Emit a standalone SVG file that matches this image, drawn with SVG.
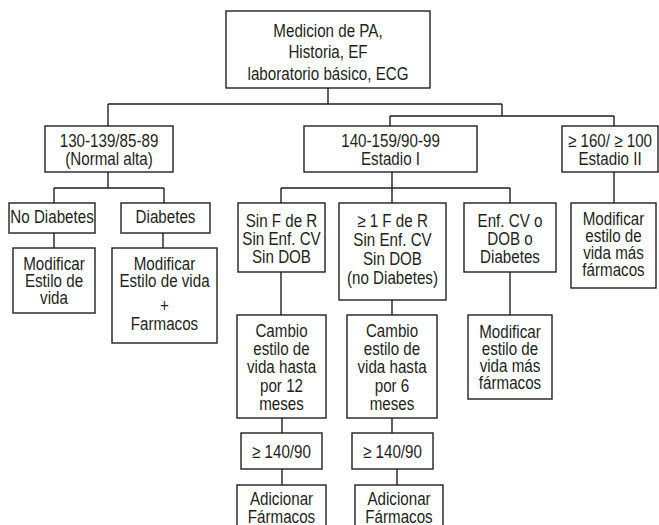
<svg xmlns="http://www.w3.org/2000/svg" width="659" height="525" viewBox="0 0 659 525">
  <style>
    .box { fill: #ffffff; stroke: #231f20; stroke-width: 1.4; }
    .wire { fill: none; stroke: #231f20; stroke-width: 1.4; }
    text { font-family: "Liberation Sans", Arial, sans-serif; font-size: 18.5px; text-anchor: middle; fill: #231f20; }
  </style>
  <rect width="659" height="525" fill="#ffffff"/>

  <!-- connectors -->
  <g id="connectors">
    <path class="wire" d="M328,88 V104 M108,104 H502 M108,104 V126 M502,104 V116 M390,116 H614 M390,116 V126 M614,116 V126"/>
    <path class="wire" d="M108,172 V188 M54,188 H164 M54,188 V203 M164,188 V203"/>
    <path class="wire" d="M392,172 V188 M281,188 H510 M281,188 V203 M392,188 V203 M510,188 V203"/>
    <path class="wire" d="M614,172 V203"/>
    <path class="wire" d="M54,233 V248 M163,233 V248"/>
    <path class="wire" d="M281,272 V315 M282,418 V433 M282,469 V485"/>
    <path class="wire" d="M392,300 V315 M392,418 V433 M397,469 V485"/>
    <path class="wire" d="M510,272 V315"/>
  </g>

  <!-- labels use a narrow face: Liberation Sans squeezed to 82% width -->
  <g id="n-root">
    <rect class="box" x="226" y="11" width="204" height="77"/>
    <g transform="translate(328,0) scale(0.82,1)">
      <text x="0" y="37">Medicion de PA,</text>
      <text x="0" y="58">Historia, EF</text>
      <text x="0" y="80">laboratorio básico, ECG</text>
    </g>
  </g>

  <!-- pressure ranges -->
  <g id="n-normal-alta">
    <rect class="box" x="45" y="126" width="128" height="46"/>
    <g transform="translate(109,0) scale(0.82,1)">
      <text x="0" y="147">130-139/85-89</text>
      <text x="0" y="165">(Normal alta)</text>
    </g>
  </g>
  <g id="n-estadio-1">
    <rect class="box" x="304" y="126" width="173" height="46"/>
    <g transform="translate(390.5,0) scale(0.82,1)">
      <text x="0" y="147">140-159/90-99</text>
      <text x="0" y="165">Estadio I</text>
    </g>
  </g>
  <g id="n-estadio-2">
    <rect class="box" x="562" y="126" width="96" height="46"/>
    <g transform="translate(610,0) scale(0.82,1)">
      <text x="0" y="147">≥ 160/ ≥ 100</text>
      <text x="0" y="165">Estadio II</text>
    </g>
  </g>

  <!-- normal alta branch -->
  <g id="n-no-diabetes">
    <rect class="box" x="9" y="203" width="86" height="30"/>
    <g transform="translate(52,0) scale(0.82,1)">
      <text x="0" y="223">No Diabetes</text>
    </g>
  </g>
  <g id="n-diabetes">
    <rect class="box" x="121" y="203" width="89" height="30"/>
    <g transform="translate(165.5,0) scale(0.82,1)">
      <text x="0" y="223">Diabetes</text>
    </g>
  </g>
  <g id="n-mod-estilo">
    <rect class="box" x="13" y="248" width="82" height="65"/>
    <g transform="translate(54,0) scale(0.82,1)">
      <text x="0" y="270">Modificar</text>
      <text x="0" y="287">Estilo de</text>
      <text x="0" y="304">vida</text>
    </g>
  </g>
  <g id="n-mod-estilo-farmacos">
    <rect class="box" x="112" y="248" width="105" height="95"/>
    <g transform="translate(164.5,0) scale(0.82,1)">
      <text x="0" y="270">Modificar</text>
      <text x="0" y="287">Estilo de vida</text>
      <text x="0" y="312" style="font-weight:300">+</text>
      <text x="0" y="330">Farmacos</text>
    </g>
  </g>

  <!-- estadio I branch -->
  <g id="n-sin-fr">
    <rect class="box" x="238" y="203" width="87" height="69"/>
    <g transform="translate(281.5,0) scale(0.82,1)">
      <text x="0" y="227">Sin F de R</text>
      <text x="0" y="245">Sin Enf. CV</text>
      <text x="0" y="263">Sin DOB</text>
    </g>
  </g>
  <g id="n-con-fr">
    <rect class="box" x="339" y="203" width="107" height="97"/>
    <g transform="translate(392.5,0) scale(0.82,1)">
      <text x="0" y="227">≥ 1 F de R</text>
      <text x="0" y="246">Sin Enf. CV</text>
      <text x="0" y="265">Sin DOB</text>
      <text x="0" y="284">(no Diabetes)</text>
    </g>
  </g>
  <g id="n-enf-cv">
    <rect class="box" x="464" y="203" width="92" height="69"/>
    <g transform="translate(510,0) scale(0.82,1)">
      <text x="0" y="227">Enf. CV o</text>
      <text x="0" y="245">DOB o</text>
      <text x="0" y="263">Diabetes</text>
    </g>
  </g>
  <g id="n-cambio-12">
    <rect class="box" x="237" y="315" width="89" height="103"/>
    <g transform="translate(281.5,0) scale(0.82,1)">
      <text x="0" y="337">Cambio</text>
      <text x="0" y="355">estilo de</text>
      <text x="0" y="373.5">vida hasta</text>
      <text x="0" y="392">por 12</text>
      <text x="0" y="410">meses</text>
    </g>
  </g>
  <g id="n-cambio-6">
    <rect class="box" x="347" y="315" width="90" height="103"/>
    <g transform="translate(392,0) scale(0.82,1)">
      <text x="0" y="337">Cambio</text>
      <text x="0" y="355">estilo de</text>
      <text x="0" y="373.5">vida hasta</text>
      <text x="0" y="392">por 6</text>
      <text x="0" y="410">meses</text>
    </g>
  </g>
  <g id="n-mod-mas-1">
    <rect class="box" x="468" y="315" width="84" height="84"/>
    <g transform="translate(510,0) scale(0.82,1)">
      <text x="0" y="338">Modificar</text>
      <text x="0" y="355">estilo de</text>
      <text x="0" y="372">vida más</text>
      <text x="0" y="389">fármacos</text>
    </g>
  </g>
  <g id="n-umbral-12">
    <rect class="box" x="241" y="433" width="81" height="36"/>
    <g transform="translate(281.5,0) scale(0.82,1)">
      <text x="0" y="458">≥ 140/90</text>
    </g>
  </g>
  <g id="n-umbral-6">
    <rect class="box" x="352" y="433" width="81" height="36"/>
    <g transform="translate(392.5,0) scale(0.82,1)">
      <text x="0" y="458">≥ 140/90</text>
    </g>
  </g>
  <g id="n-adicionar-12">
    <rect class="box" x="237" y="485" width="89" height="50"/>
    <g transform="translate(281.5,0) scale(0.82,1)">
      <text x="0" y="505">Adicionar</text>
      <text x="0" y="523">Fármacos</text>
    </g>
  </g>
  <g id="n-adicionar-6">
    <rect class="box" x="355" y="485" width="88" height="50"/>
    <g transform="translate(399,0) scale(0.82,1)">
      <text x="0" y="505">Adicionar</text>
      <text x="0" y="523">Fármacos</text>
    </g>
  </g>

  <!-- estadio II branch -->
  <g id="n-mod-mas-2">
    <rect class="box" x="571" y="203" width="85" height="85"/>
    <g transform="translate(613.5,0) scale(0.82,1)">
      <text x="0" y="225">Modificar</text>
      <text x="0" y="242">estilo de</text>
      <text x="0" y="259">vida más</text>
      <text x="0" y="276">fármacos</text>
    </g>
  </g>
</svg>
